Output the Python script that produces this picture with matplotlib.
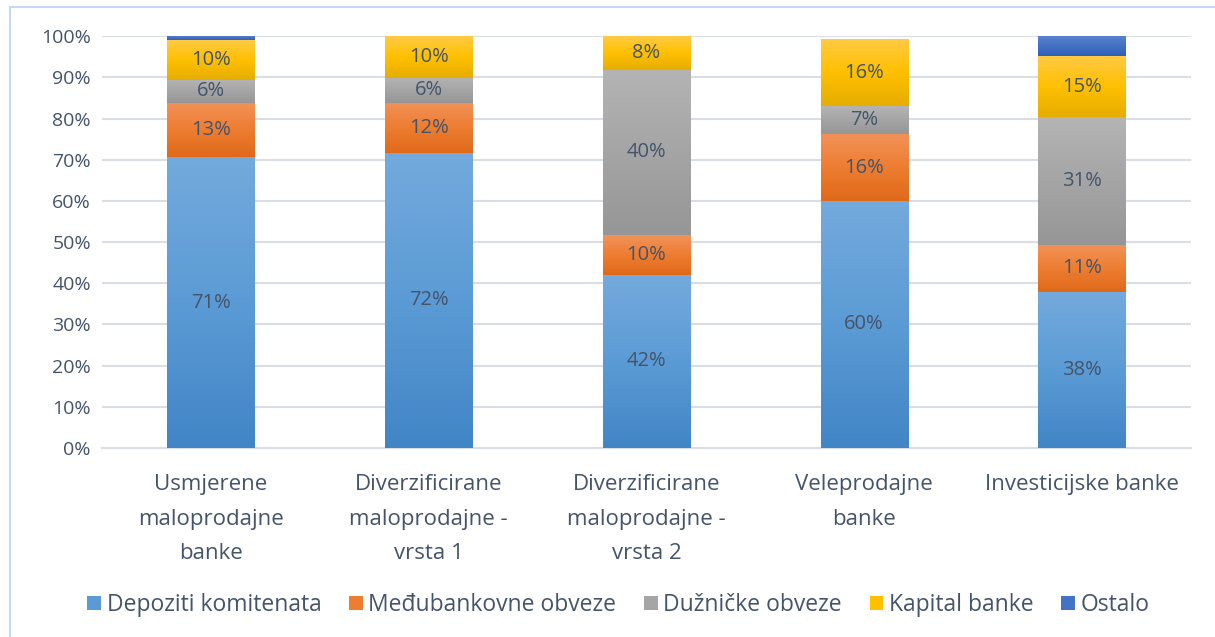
import numpy as np
import matplotlib
matplotlib.use("Agg")
import matplotlib.pyplot as plt
from matplotlib.colors import LinearSegmentedColormap
from matplotlib.patches import Patch, Rectangle

plt.rcParams['font.family'] = ['Open Sans', 'DejaVu Sans']

# --- data (percent share of liabilities) ---
categories = ["Usmjerene\nmaloprodajne\nbanke",
              "Diverzificirane\nmaloprodajne -\nvrsta 1",
              "Diverzificirane\nmaloprodajne -\nvrsta 2",
              "Veleprodajne\nbanke",
              "Investicijske banke"]
series_names = ["Depoziti komitenata", "Međubankovne obveze",
                "Dužničke obveze", "Kapital banke", "Ostalo"]
depoziti = [70.6, 71.6, 42.0, 60.0, 37.9]
medjubank = [13.2, 12.2, 9.7, 16.2, 11.4]
duznicke = [5.6, 6.1, 40.2, 6.8, 31.0]
kapital = [9.6, 10.1, 8.1, 16.4, 14.8]
ostalo = [1.0, 0.0, 0.0, 0.0, 4.9]
yticks = [0, 10, 20, 30, 40, 50, 60, 70, 80, 90, 100]

# gradient stops per series (top, middle, bottom) - Excel style
gradients = [
    ("#74AADD", "#5B9BD5", "#4285C6"),
    ("#F29259", "#ED7D31", "#E0691A"),
    ("#B4B4B4", "#A5A5A5", "#969696"),
    ("#FFCA45", "#FFC000", "#E6AD00"),
    ("#5B85CD", "#4472C4", "#2F5FB8"),
]
label_color = "#44546A"

all_series = [depoziti, medjubank, duznicke, kapital, ostalo]

fig = plt.figure(figsize=(12.15, 6.37), dpi=100)
ax = fig.add_axes([0.084, 0.297, 0.896, 0.646])

x = np.arange(len(categories))
bottom = np.zeros(len(categories))
grad = np.linspace(0, 1, 256).reshape(-1, 1)

for i, vals in enumerate(all_series):
    vals = np.array(vals)
    bars = ax.bar(x, vals, width=0.40, bottom=bottom, color=gradients[i][1],
                  edgecolor="none", zorder=2)
    cmap = LinearSegmentedColormap.from_list("g%d" % i, list(gradients[i][::-1]))
    for b, v in zip(bars, vals):
        if v <= 0:
            continue
        x0, y0 = b.get_x(), b.get_y()
        im = ax.imshow(grad, cmap=cmap, origin="lower", aspect="auto",
                       extent=[x0, x0 + b.get_width(), y0, y0 + b.get_height()],
                       zorder=3)
        im.set_clip_path(b)
        if i < 4:
            ax.text(b.get_x() + b.get_width() / 2, y0 + v / 2, f"{round(v)}%",
                    ha="center", va="center", fontsize=14.5, color=label_color,
                    zorder=4)
    bottom += vals

ax.set_xlim(-0.5, len(categories) - 0.5)
ax.set_ylim(0, 100)
ax.set_yticks(yticks)
ax.set_yticklabels([f"{t}%" for t in yticks])
ax.set_xticks(x)
ax.set_xticklabels(categories, linespacing=1.85)
ax.tick_params(axis="both", length=0, labelcolor=label_color)
ax.tick_params(axis="y", labelsize=14, pad=8)
ax.tick_params(axis="x", labelsize=16, pad=19)
ax.yaxis.grid(True, color="#D9DDE4", linewidth=1.5, zorder=0)
ax.set_axisbelow(True)
for s in ["top", "right", "left"]:
    ax.spines[s].set_visible(False)
ax.spines["bottom"].set_color("#D9DDE4")
ax.spines["bottom"].set_linewidth(1.5)

handles = [Patch(facecolor=g[1], edgecolor="none") for g in gradients]
fig.legend(handles, series_names, loc="center", bbox_to_anchor=(0.509, 0.05),
           ncol=5, frameon=False, fontsize=16.5, labelcolor=label_color,
           handlelength=0.6, handleheight=0.6, handletextpad=0.25,
           columnspacing=1.2)

# chart frame (only top/left edges visible in the crop)
fig.patches.append(Rectangle((10 / 1215, -0.05), 1.2, 1 - 7 / 637 + 0.05,
                             transform=fig.transFigure, fill=False,
                             edgecolor="#C6D9F0", linewidth=1.5))

fig.savefig("out.png", dpi=100)
